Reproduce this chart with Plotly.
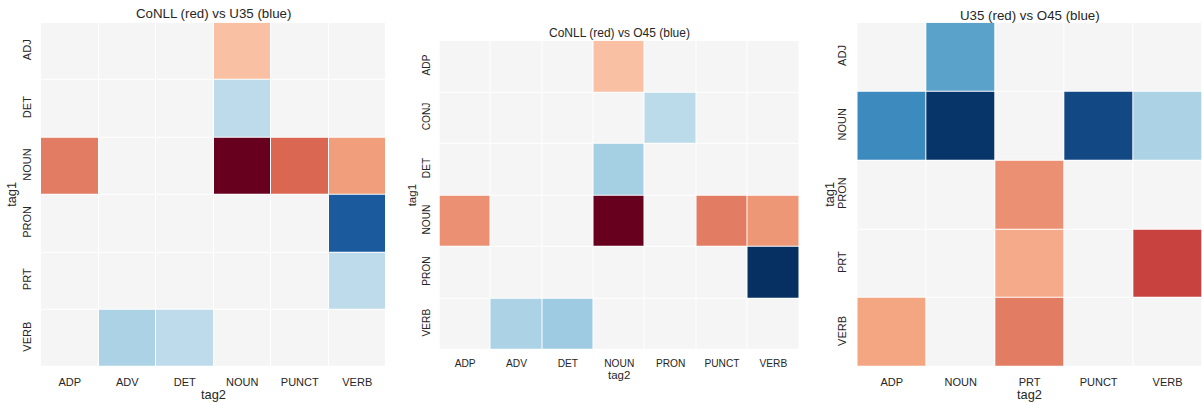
import plotly.graph_objects as go

# ---- data (diff scores, red positive / blue negative, range -1..1) ----
p1_title = "CoNLL (red) vs U35 (blue)"
p1_rows = ["ADJ", "DET", "NOUN", "PRON", "PRT", "VERB"]
p1_cols = ["ADP", "ADV", "DET", "NOUN", "PUNCT", "VERB"]
p1_z = [
    [0.00, 0.00, 0.00, 0.30, 0.00, 0.00],
    [0.00, 0.00, 0.00, -0.26, 0.00, 0.00],
    [0.52, 0.00, 0.00, 1.00, 0.58, 0.42],
    [0.00, 0.00, 0.00, 0.00, 0.00, -0.84],
    [0.00, 0.00, 0.00, 0.00, 0.00, -0.26],
    [0.00, -0.32, -0.26, 0.00, 0.00, 0.00],
]

p2_title = "CoNLL (red) vs O45 (blue)"
p2_rows = ["ADP", "CONJ", "DET", "NOUN", "PRON", "VERB"]
p2_cols = ["ADP", "ADV", "DET", "NOUN", "PRON", "PUNCT", "VERB"]
p2_z = [
    [0.00, 0.00, 0.00, 0.30, 0.00, 0.00, 0.00],
    [0.00, 0.00, 0.00, 0.00, -0.27, 0.00, 0.00],
    [0.00, 0.00, 0.00, -0.34, 0.00, 0.00, 0.00],
    [0.46, 0.00, 0.00, 1.00, 0.00, 0.52, 0.44],
    [0.00, 0.00, 0.00, 0.00, 0.00, 0.00, -1.00],
    [0.00, -0.32, -0.36, 0.00, 0.00, 0.00, 0.00],
]

p3_title = "U35 (red) vs O45 (blue)"
p3_rows = ["ADJ", "NOUN", "PRON", "PRT", "VERB"]
p3_cols = ["ADP", "NOUN", "PRT", "PUNCT", "VERB"]
p3_z = [
    [0.00, -0.54, 0.00, 0.00, 0.00],
    [-0.64, -0.98, 0.00, -0.91, -0.32],
    [0.00, 0.00, 0.46, 0.00, 0.00],
    [0.00, 0.00, 0.38, 0.00, 0.68],
    [0.40, 0.00, 0.52, 0.00, 0.00],
]

# matplotlib RdBu_r
rdbu_r = [
    [0.0, "#053061"], [0.1, "#2166ac"], [0.2, "#4393c3"], [0.3, "#92c5de"],
    [0.4, "#d1e5f0"], [0.5, "#f5f5f5"], [0.6, "#fddbc7"], [0.7, "#f4a582"],
    [0.8, "#d6604d"], [0.9, "#b2182b"], [1.0, "#67001f"],
]

W, H = 1202, 403
TXT = "#262626"
FONT = "Liberation Sans, Arial, sans-serif"

panels = [
    dict(title=p1_title, rows=p1_rows, cols=p1_cols, z=p1_z,
         x0=41, x1=386, y0=22.7, y1=367, fs=11, tfs=13.3,
         title_y=14, tag2_y=394, tag1_x=12, xso=7, yso=7),
    dict(title=p2_title, rows=p2_rows, cols=p2_cols, z=p2_z,
         x0=439.5, x1=799, y0=40.7, y1=350, fs=10.2, tfs=12,
         title_y=33, tag2_y=375, tag1_x=412, xso=6, yso=6),
    dict(title=p3_title, rows=p3_rows, cols=p3_cols, z=p3_z,
         x0=857.3, x1=1202, y0=22.7, y1=367, fs=11, tfs=13.3,
         title_y=15, tag2_y=394, tag1_x=830, xso=7, yso=8),
]

fig = go.Figure()
annotations = []
layout = {}
for i, p in enumerate(panels, start=1):
    xa = "x" if i == 1 else f"x{i}"
    ya = "y" if i == 1 else f"y{i}"
    fig.add_trace(go.Heatmap(
        z=p["z"], x=p["cols"], y=p["rows"], xaxis=xa, yaxis=ya,
        colorscale=rdbu_r, zmin=-1, zmax=1, zmid=0, showscale=False,
        xgap=1, ygap=1, hoverinfo="skip",
    ))
    layout["xaxis" if i == 1 else f"xaxis{i}"] = dict(
        domain=[p["x0"] / W, p["x1"] / W], anchor=ya,
        showgrid=False, zeroline=False, showline=False, ticks="",
        ticklabelstandoff=p["xso"],
        tickfont=dict(size=p["fs"], color=TXT, family=FONT),
        categoryorder="array", categoryarray=p["cols"], fixedrange=True,
    )
    layout["yaxis" if i == 1 else f"yaxis{i}"] = dict(
        domain=[1 - p["y1"] / H, 1 - p["y0"] / H], anchor=xa,
        showgrid=False, zeroline=False, showline=False, ticks="",
        tickangle=-90, autorange="reversed", ticklabelstandoff=p["yso"],
        tickfont=dict(size=p["fs"], color=TXT, family=FONT),
        categoryorder="array", categoryarray=p["rows"], fixedrange=True,
    )
    cx = (p["x0"] + p["x1"]) / 2 / W
    annotations.append(dict(text=p["title"], x=cx, y=1 - p["title_y"] / H,
                            xref="paper", yref="paper", showarrow=False,
                            xanchor="center", yanchor="middle",
                            font=dict(size=p["tfs"], color=TXT, family=FONT)))
    annotations.append(dict(text="tag2", x=cx, y=1 - p["tag2_y"] / H,
                            xref="paper", yref="paper", showarrow=False,
                            xanchor="center", yanchor="middle",
                            font=dict(size=p["tfs"] - 0.5, color=TXT, family=FONT)))
    cy = (p["y0"] + p["y1"]) / 2
    annotations.append(dict(text="tag1", x=p["tag1_x"] / W, y=1 - cy / H,
                            xref="paper", yref="paper", showarrow=False,
                            xanchor="center", yanchor="middle", textangle=-90,
                            font=dict(size=p["tfs"] - 0.5, color=TXT, family=FONT)))

fig.update_layout(
    width=W, height=H, margin=dict(l=0, r=0, t=0, b=0),
    paper_bgcolor="white", plot_bgcolor="white",
    annotations=annotations, **layout,
)

fig.write_html(
    "out.html",
    config={"displayModeBar": False, "staticPlot": True},
    post_script="document.body.style.margin='0';document.body.style.overflow='hidden';",
)
